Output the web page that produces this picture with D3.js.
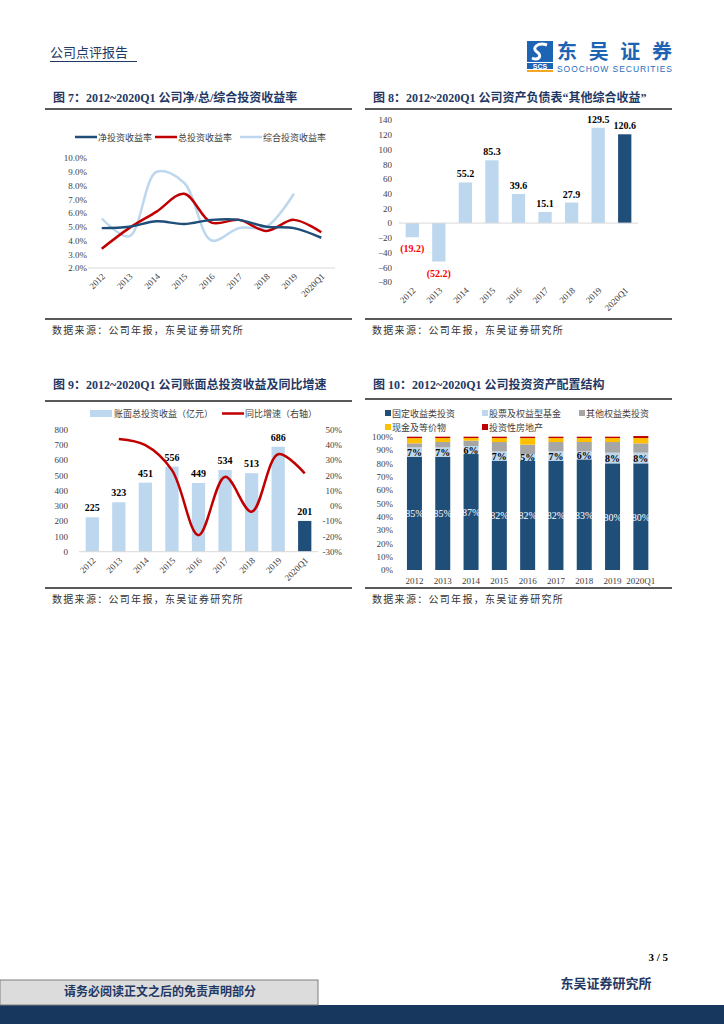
<!DOCTYPE html>
<html>
<head>
<meta charset="utf-8">
<script src="https://cdn.jsdelivr.net/npm/d3@7/dist/d3.min.js"></script>
<style>
body { margin: 0; background: #fff; }
svg text { font-family: 'Liberation Serif', 'Noto Sans CJK SC', serif; }
.cn { font-family: 'Noto Sans CJK SC', sans-serif; }
.title { font-weight: bold; font-size: 12px; fill: #1f3864; }
.src { font-size: 10px; fill: #333; letter-spacing: 1.3px; }
.tick text { font-size: 9px; fill: #404040; font-family: 'Liberation Serif', serif; }
.lg { font-size: 9px; fill: #404040; font-family: 'Noto Sans CJK SC', sans-serif; }
.val { font-size: 10px; font-weight: bold; fill: #000; }
</style>
</head>
<body>
<svg id="page" width="724" height="1024"></svg>
<script>
var years = ['2012', '2013', '2014', '2015', '2016', '2017', '2018', '2019', '2020Q1'];

// 图7 收益率 (%)
var netYield = [4.9, 5.0, 5.4, 5.2, 5.5, 5.5, 5.0, 4.9, 4.2];
var totalYield = [3.4, 4.9, 6.1, 7.4, 5.3, 5.5, 4.7, 5.5, 4.6];
var compYield = [5.6, 4.3, 9.0, 8.2, 4.0, 4.9, 5.0, 7.4, null];
var yieldTicks = [2, 3, 4, 5, 6, 7, 8, 9, 10];

// 图8 其他综合收益 (亿元)
var ociValues = [-19.2, -52.2, 55.2, 85.3, 39.6, 15.1, 27.9, 129.5, 120.6];
var ociTicks = [-80, -60, -40, -20, 0, 20, 40, 60, 80, 100, 120, 140];

// 图9 账面总投资收益 (亿元) 及同比 (%)
var invIncome = [225, 323, 451, 556, 449, 534, 513, 686, 201];
var incomeGrowth = [null, 43.6, 39.6, 23.3, -19.2, 18.9, -3.9, 33.7, 21.2];
var incomeTicks = [0, 100, 200, 300, 400, 500, 600, 700, 800];
var growthTicks = [-30, -20, -10, 0, 10, 20, 30, 40, 50];

// 图10 配置结构 (%)
var allocNames = ['固定收益类投资', '股票及权益型基金', '其他权益类投资', '现金及等价物', '投资性房地产'];
var allocFixed = [85, 85, 87, 82, 82, 82, 83, 80, 80];
var allocEquity = [7, 7, 6, 7, 5, 7, 6, 8, 8];
var allocOther = [3, 4, 4, 7, 7, 7, 7, 8, 7];
var allocCash = [4, 3, 2, 3, 5, 3, 3, 3, 4];
var allocRealty = [1, 1, 1, 1, 1, 1, 1, 1, 1.5];
var allocTicks = [0, 10, 20, 30, 40, 50, 60, 70, 80, 90, 100];

var dark = '#1f4e79', light = '#bdd7ee', red = '#c00000';

var svg = d3.select('#page');

// ---------- 页眉 ----------
svg.append('text').attr('class', 'cn').attr('x', 50).attr('y', 57)
    .attr('font-size', 13).attr('fill', '#1f3864').text('公司点评报告');
svg.append('line').attr('x1', 50).attr('x2', 137).attr('y1', 61.5).attr('y2', 61.5)
    .attr('stroke', '#1f3864').attr('stroke-width', 1);

var logo = svg.append('g');
logo.append('rect').attr('x', 527).attr('y', 41).attr('width', 26).attr('height', 21).attr('fill', '#1e64b4');
logo.append('path').attr('d', 'M547,45 C538,42 531,48 537,52 C543,56 538,61 532,58')
    .attr('fill', 'none').attr('stroke', '#fff').attr('stroke-width', 3);
logo.append('rect').attr('x', 527).attr('y', 63).attr('width', 26).attr('height', 6).attr('fill', '#1e64b4');
logo.append('text').attr('x', 540).attr('y', 68.5).attr('text-anchor', 'middle')
    .attr('font-size', 7).attr('font-weight', 'bold').attr('fill', '#fff')
    .style('font-family', 'Liberation Sans').text('SCS');
logo.append('rect').attr('x', 527).attr('y', 70).attr('width', 26).attr('height', 2).attr('fill', '#f5a623');
logo.append('text').attr('class', 'cn').attr('x', 557).attr('y', 59).attr('font-size', 20)
    .attr('font-weight', 'bold').attr('fill', '#1e64b4').attr('textLength', 115).text('东吴证券');
logo.append('text').attr('x', 557).attr('y', 72).attr('font-size', 8.5).attr('fill', '#2a6ebb')
    .style('font-family', 'Liberation Sans').attr('textLength', 115).text('SOOCHOW SECURITIES');

// ---------- 通用 ----------
function frame(x0, x1, yTitle, yTop, yBot, title) {
    svg.append('text').attr('class', 'title').attr('x', x0 + 8).attr('y', yTitle).text(title);
    svg.append('line').attr('x1', x0).attr('x2', x1).attr('y1', yTop).attr('y2', yTop)
        .attr('stroke', '#222').attr('stroke-width', 1.5);
    svg.append('line').attr('x1', x0).attr('x2', x1).attr('y1', yBot).attr('y2', yBot)
        .attr('stroke', '#222').attr('stroke-width', 1.5);
    svg.append('text').attr('class', 'src cn').attr('x', x0 + 7).attr('y', yBot + 15)
        .text('数据来源：公司年报，东吴证券研究所');
}

function rotLabels(g, xs, yBase) {
    g.selectAll('text.xl').data(years).enter().append('text')
        .attr('class', 'xl')
        .attr('text-anchor', 'end')
        .attr('font-size', 9).attr('fill', '#404040')
        .attr('transform', d => `translate(${xs(d) + xs.bandwidth() / 2 + 4},${yBase})rotate(-45)`)
        .text(d => d);
}

function cleanAxis(sel) {
    sel.select('.domain').remove();
    sel.selectAll('.tick line').remove();
}

var smooth = d3.curveCatmullRom.alpha(0.5);

// ---------- 图7 ----------
frame(45, 352, 102, 109, 319, '图 7：2012~2020Q1 公司净/总/综合投资收益率');

var x7 = d3.scaleBand().domain(years).range([88, 335]);
var y7 = d3.scaleLinear().domain([2, 10]).range([268, 158]);
var g7 = svg.append('g');

g7.append('g').attr('transform', 'translate(87,0)')
    .call(d3.axisLeft(y7).tickValues(yieldTicks).tickSize(0).tickPadding(0).tickFormat(d => d.toFixed(1) + '%'))
    .call(cleanAxis);
g7.append('line').attr('x1', 88).attr('x2', 335).attr('y1', 268).attr('y2', 268)
    .attr('stroke', '#d9d9d9').attr('stroke-width', 1);
rotLabels(g7, x7, 277);

var series7 = [
    { name: '净投资收益率', values: netYield, color: dark },
    { name: '总投资收益率', values: totalYield, color: red },
    { name: '综合投资收益率', values: compYield, color: light }
];
var line7 = d3.line()
    .defined(d => d != null)
    .x((d, i) => x7(years[i]) + x7.bandwidth() / 2)
    .y(d => y7(d))
    .curve(smooth);

g7.selectAll('path.s').data(series7.slice().reverse()).enter().append('path')
    .attr('class', 's')
    .attr('d', d => line7(d.values))
    .attr('fill', 'none').attr('stroke', d => d.color).attr('stroke-width', 2.5);

var lg7X = [75, 155, 240];
var lg7 = g7.selectAll('g.lg7').data(series7).enter().append('g')
    .attr('transform', (d, i) => `translate(${lg7X[i]},137)`);
lg7.append('line').attr('x1', 0).attr('x2', 22).attr('stroke', d => d.color).attr('stroke-width', 2.5);
lg7.append('text').attr('class', 'lg').attr('x', 23).attr('y', 3.5).text(d => d.name);

// ---------- 图8 ----------
frame(365, 672, 102, 109, 319, '图 8：2012~2020Q1 公司资产负债表“其他综合收益”');

var x8 = d3.scaleBand().domain(years).range([399, 638]).paddingInner(0.5).paddingOuter(0.25);
var y8 = d3.scaleLinear().domain([-80, 140]).range([282, 120]);
var g8 = svg.append('g');

g8.append('g').attr('transform', 'translate(392,0)')
    .call(d3.axisLeft(y8).tickValues(ociTicks).tickSize(0).tickPadding(0))
    .call(cleanAxis);

g8.selectAll('rect').data(ociValues).enter().append('rect')
    .attr('x', (d, i) => x8(years[i]))
    .attr('width', x8.bandwidth())
    .attr('y', d => y8(Math.max(0, d)))
    .attr('height', d => Math.abs(y8(d) - y8(0)))
    .attr('fill', (d, i) => i === years.length - 1 ? dark : light);

g8.append('line').attr('x1', 399).attr('x2', 638).attr('y1', y8(0)).attr('y2', y8(0))
    .attr('stroke', '#d9d9d9').attr('stroke-width', 1);

g8.selectAll('text.v').data(ociValues).enter().append('text')
    .attr('class', 'val v')
    .attr('text-anchor', 'middle')
    .attr('x', (d, i) => x8(years[i]) + x8.bandwidth() / 2)
    .attr('y', d => d >= 0 ? y8(d) - 5 : y8(d) + 15)
    .style('fill', d => d >= 0 ? '#000' : '#ff0000')
    .text(d => d >= 0 ? d.toFixed(1) : '(' + Math.abs(d).toFixed(1) + ')');

var x8full = d3.scaleBand().domain(years).range([399, 638]);
rotLabels(g8, x8full, 291);

// ---------- 图9 ----------
frame(45, 352, 389, 401, 588, '图 9：2012~2020Q1 公司账面总投资收益及同比增速');

var x9 = d3.scaleBand().domain(years).range([79, 318]).paddingInner(0.5).paddingOuter(0.25);
var x9full = d3.scaleBand().domain(years).range([79, 318]);
var y9 = d3.scaleLinear().domain([0, 800]).range([551.7, 429.3]);
var y9r = d3.scaleLinear().domain([-30, 50]).range([551.7, 429.3]);
var g9 = svg.append('g');

g9.append('g').attr('transform', 'translate(68,0)')
    .call(d3.axisLeft(y9).tickValues(incomeTicks).tickSize(0).tickPadding(0))
    .call(cleanAxis);
g9.append('g').attr('transform', 'translate(342,0)')
    .call(d3.axisLeft(y9r).tickValues(growthTicks).tickSize(0).tickPadding(0).tickFormat(d => d + '%'))
    .call(cleanAxis);

g9.selectAll('rect').data(invIncome).enter().append('rect')
    .attr('x', (d, i) => x9(years[i]))
    .attr('width', x9.bandwidth())
    .attr('y', d => y9(d))
    .attr('height', d => y9(0) - y9(d))
    .attr('fill', (d, i) => i === years.length - 1 ? dark : light);

g9.append('line').attr('x1', 79).attr('x2', 318).attr('y1', y9(0)).attr('y2', y9(0))
    .attr('stroke', '#d9d9d9').attr('stroke-width', 1);

g9.selectAll('text.v').data(invIncome).enter().append('text')
    .attr('class', 'val v').attr('text-anchor', 'middle')
    .attr('x', (d, i) => x9(years[i]) + x9.bandwidth() / 2)
    .attr('y', d => y9(d) - 6)
    .text(d => d);

var line9 = d3.line()
    .defined(d => d != null)
    .x((d, i) => x9full(years[i]) + x9full.bandwidth() / 2)
    .y(d => y9r(d))
    .curve(smooth);
g9.append('path').attr('d', line9(incomeGrowth))
    .attr('fill', 'none').attr('stroke', red).attr('stroke-width', 2.5);

rotLabels(g9, x9full, 561);

var lg9 = g9.append('g');
lg9.append('rect').attr('x', 90).attr('y', 410).attr('width', 22).attr('height', 7).attr('fill', light);
lg9.append('text').attr('class', 'lg').attr('x', 114).attr('y', 417).text('账面总投资收益（亿元）');
lg9.append('line').attr('x1', 222).attr('x2', 244).attr('y1', 413.5).attr('y2', 413.5)
    .attr('stroke', red).attr('stroke-width', 2.5);
lg9.append('text').attr('class', 'lg').attr('x', 245).attr('y', 417).text('同比增速（右轴）');

// ---------- 图10 ----------
frame(365, 672, 389, 399, 588, '图 10：2012~2020Q1 公司投资资产配置结构');

var x10 = d3.scaleBand().domain(years).range([400.3, 655]).paddingInner(0.47).paddingOuter(0.235);
var y10 = d3.scaleLinear().domain([0, 100]).range([570, 436.7]);
var g10 = svg.append('g');

g10.append('g').attr('transform', 'translate(393,0)')
    .call(d3.axisLeft(y10).tickValues(allocTicks).tickSize(0).tickPadding(0).tickFormat(d => d + '%'))
    .call(cleanAxis);

var allocRows = years.map((yr, i) => ({
    year: yr, fixed: allocFixed[i], equity: allocEquity[i], other: allocOther[i],
    cash: allocCash[i], realty: allocRealty[i]
}));
var allocKeys = ['fixed', 'equity', 'other', 'cash', 'realty'];
var allocColors = [dark, light, '#a6a6a6', '#ffc000', red];
var stack = d3.stack().keys(allocKeys)(allocRows);

g10.selectAll('g.layer').data(stack).enter().append('g')
    .attr('class', 'layer').attr('fill', (d, i) => allocColors[i])
    .selectAll('rect').data(d => d).enter().append('rect')
    .attr('x', d => x10(d.data.year))
    .attr('width', x10.bandwidth())
    .attr('y', d => y10(d[1]))
    .attr('height', d => y10(d[0]) - y10(d[1]));

g10.selectAll('text.fx').data(stack[0]).enter().append('text')
    .attr('class', 'fx').attr('text-anchor', 'middle')
    .attr('x', d => x10(d.data.year) + x10.bandwidth() / 2)
    .attr('y', d => y10((d[0] + d[1]) / 2) + 4)
    .attr('font-size', 10).attr('fill', '#fff')
    .text(d => d.data.fixed + '%');
g10.selectAll('text.eq').data(stack[1]).enter().append('text')
    .attr('class', 'eq').attr('text-anchor', 'middle')
    .attr('x', d => x10(d.data.year) + x10.bandwidth() / 2)
    .attr('y', d => y10((d[0] + d[1]) / 2) + 3.5)
    .attr('font-size', 10).attr('font-weight', 'bold').attr('fill', '#000')
    .text(d => d.data.equity + '%');

g10.selectAll('text.xl').data(years).enter().append('text')
    .attr('class', 'xl').attr('text-anchor', 'middle')
    .attr('x', d => x10(d) + x10.bandwidth() / 2).attr('y', 584)
    .attr('font-size', 9).attr('fill', '#404040')
    .text(d => d);

var lg10Pos = [[385, 413], [482, 413], [579, 413], [385, 427], [482, 427]];
var lg10 = g10.selectAll('g.lg10').data(allocNames).enter().append('g')
    .attr('transform', (d, i) => `translate(${lg10Pos[i][0]},${lg10Pos[i][1]})`);
lg10.append('rect').attr('x', 0).attr('y', -3).attr('width', 6).attr('height', 6)
    .attr('fill', (d, i) => allocColors[i]);
lg10.append('text').attr('class', 'lg').attr('x', 7).attr('y', 3.5).text(d => d);

// ---------- 页脚 ----------
svg.append('text').attr('x', 668).attr('y', 961).attr('text-anchor', 'end')
    .attr('font-size', 11).attr('font-weight', 'bold').attr('fill', '#000').text('3 / 5');
svg.append('rect').attr('x', 0).attr('y', 1005).attr('width', 724).attr('height', 19).attr('fill', '#17375e');
svg.append('rect').attr('x', 0).attr('y', 980).attr('width', 318).attr('height', 25)
    .attr('fill', '#dcdcdc').attr('stroke', '#7f7f7f').attr('stroke-width', 1);
svg.append('text').attr('class', 'cn').attr('x', 160).attr('y', 996).attr('text-anchor', 'middle')
    .attr('font-size', 12).attr('font-weight', 'bold').attr('fill', '#1f3864')
    .text('请务必阅读正文之后的免责声明部分');
svg.append('text').attr('class', 'cn').attr('x', 606).attr('y', 988).attr('text-anchor', 'middle')
    .attr('font-size', 13).attr('font-weight', 'bold').attr('fill', '#1f3864')
    .text('东吴证券研究所');
</script>
</body>
</html>
